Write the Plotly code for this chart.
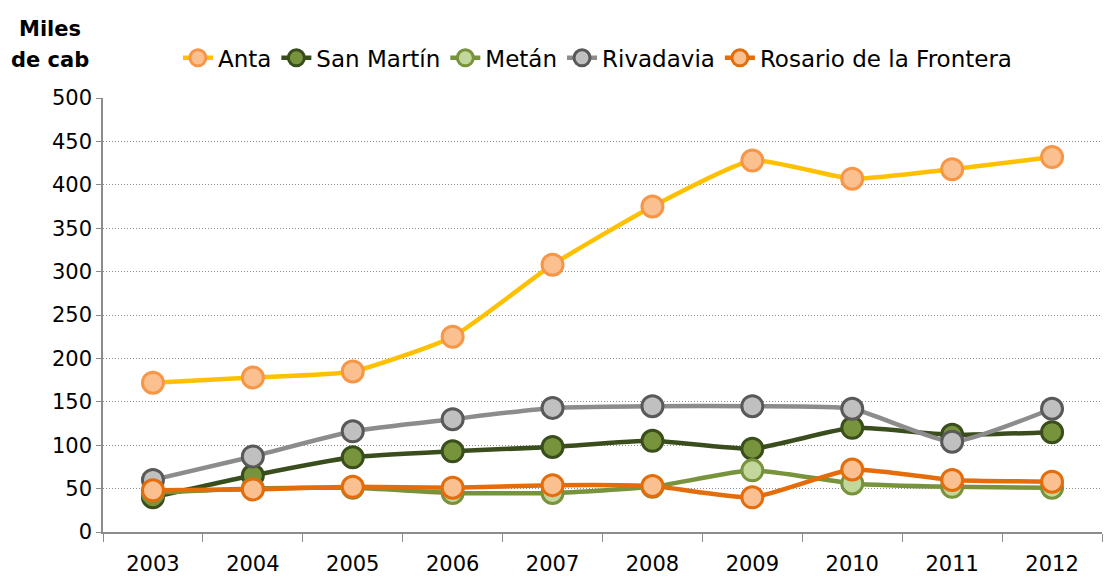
import plotly.graph_objects as go

years = ["2003", "2004", "2005", "2006", "2007", "2008", "2009", "2010", "2011", "2012"]
anta = [172, 178, 185, 225, 308, 375, 428, 407, 418, 432]
san_martin = [40, 65, 86, 93, 98, 105, 96, 120, 112, 115]
metan = [45, 50, 51, 45, 45, 52, 71, 56, 52, 51]
rivadavia = [60, 87, 116, 130, 143, 145, 145, 142, 104, 142]
rosario = [48, 49, 52, 51, 54, 53, 40, 72, 60, 58]

series = [
    ("Anta", anta, "#FFC000", "#FAC090", "#F79646"),
    ("San Martín", san_martin, "#3A4D1C", "#77933C", "#3A4D1C"),
    ("Metán", metan, "#77933C", "#C3D69B", "#77933C"),
    ("Rivadavia", rivadavia, "#8C8C8C", "#C0C0C0", "#595959"),
    ("Rosario de la Frontera", rosario, "#E46C0A", "#FAC090", "#E46C0A"),
]

FONT = "DejaVu Sans"

fig = go.Figure()
for name, vals, lc, mf, mb in series:
    fig.add_trace(go.Scatter(
        x=years, y=vals, name=name, mode="lines+markers",
        line=dict(color=lc, width=4.5, shape="spline", smoothing=0.5),
        marker=dict(size=21, color=mf, line=dict(color=mb, width=3)),
    ))

fig.update_layout(
    width=1116, height=577,
    margin=dict(l=103, r=14, t=98, b=45, autoexpand=False),
    plot_bgcolor="white", paper_bgcolor="white",
    font=dict(family=FONT, size=21, color="black"),
    showlegend=True,
    legend=dict(orientation="h", x=0.075, y=1.142, xanchor="left", yanchor="top",
                font=dict(family=FONT, size=23, color="black"),
                itemwidth=30, tracegroupgap=0, bgcolor="rgba(0,0,0,0)"),
    xaxis=dict(type="category", range=[-0.5, 9.5], tickson="boundaries", ticks="outside", ticklen=8,
               tickcolor="#8c8c8c", showline=True, linecolor="#8c8c8c", linewidth=1.5,
               showgrid=False, tickfont=dict(size=21), ticklabelstandoff=12),
    yaxis=dict(range=[0, 500], dtick=50, ticks="outside", ticklen=5, tickcolor="#8c8c8c",
               showline=True, linecolor="#8c8c8c", linewidth=1.5,
               showgrid=True, gridcolor="#8c8c8c", gridwidth=1, griddash="1px,2px",
               zeroline=False, tickfont=dict(size=21)),
    annotations=[
        dict(text="<b>Miles</b>", xref="paper", yref="paper", x=-0.053, y=1.158,
             xanchor="center", yanchor="middle", showarrow=False,
             font=dict(family=FONT, size=21, color="black")),
        dict(text="<b>de cab</b>", xref="paper", yref="paper", x=-0.053, y=1.088,
             xanchor="center", yanchor="middle", showarrow=False,
             font=dict(family=FONT, size=21, color="black")),
    ],
)

fig.write_html("out.html", config={"displayModeBar": False})
with open("out.html", "r", encoding="utf-8") as f:
    html = f.read()
html = html.replace("<head>", "<head><style>html,body{margin:0;padding:0;overflow:hidden;}</style>", 1)
with open("out.html", "w", encoding="utf-8") as f:
    f.write(html)
